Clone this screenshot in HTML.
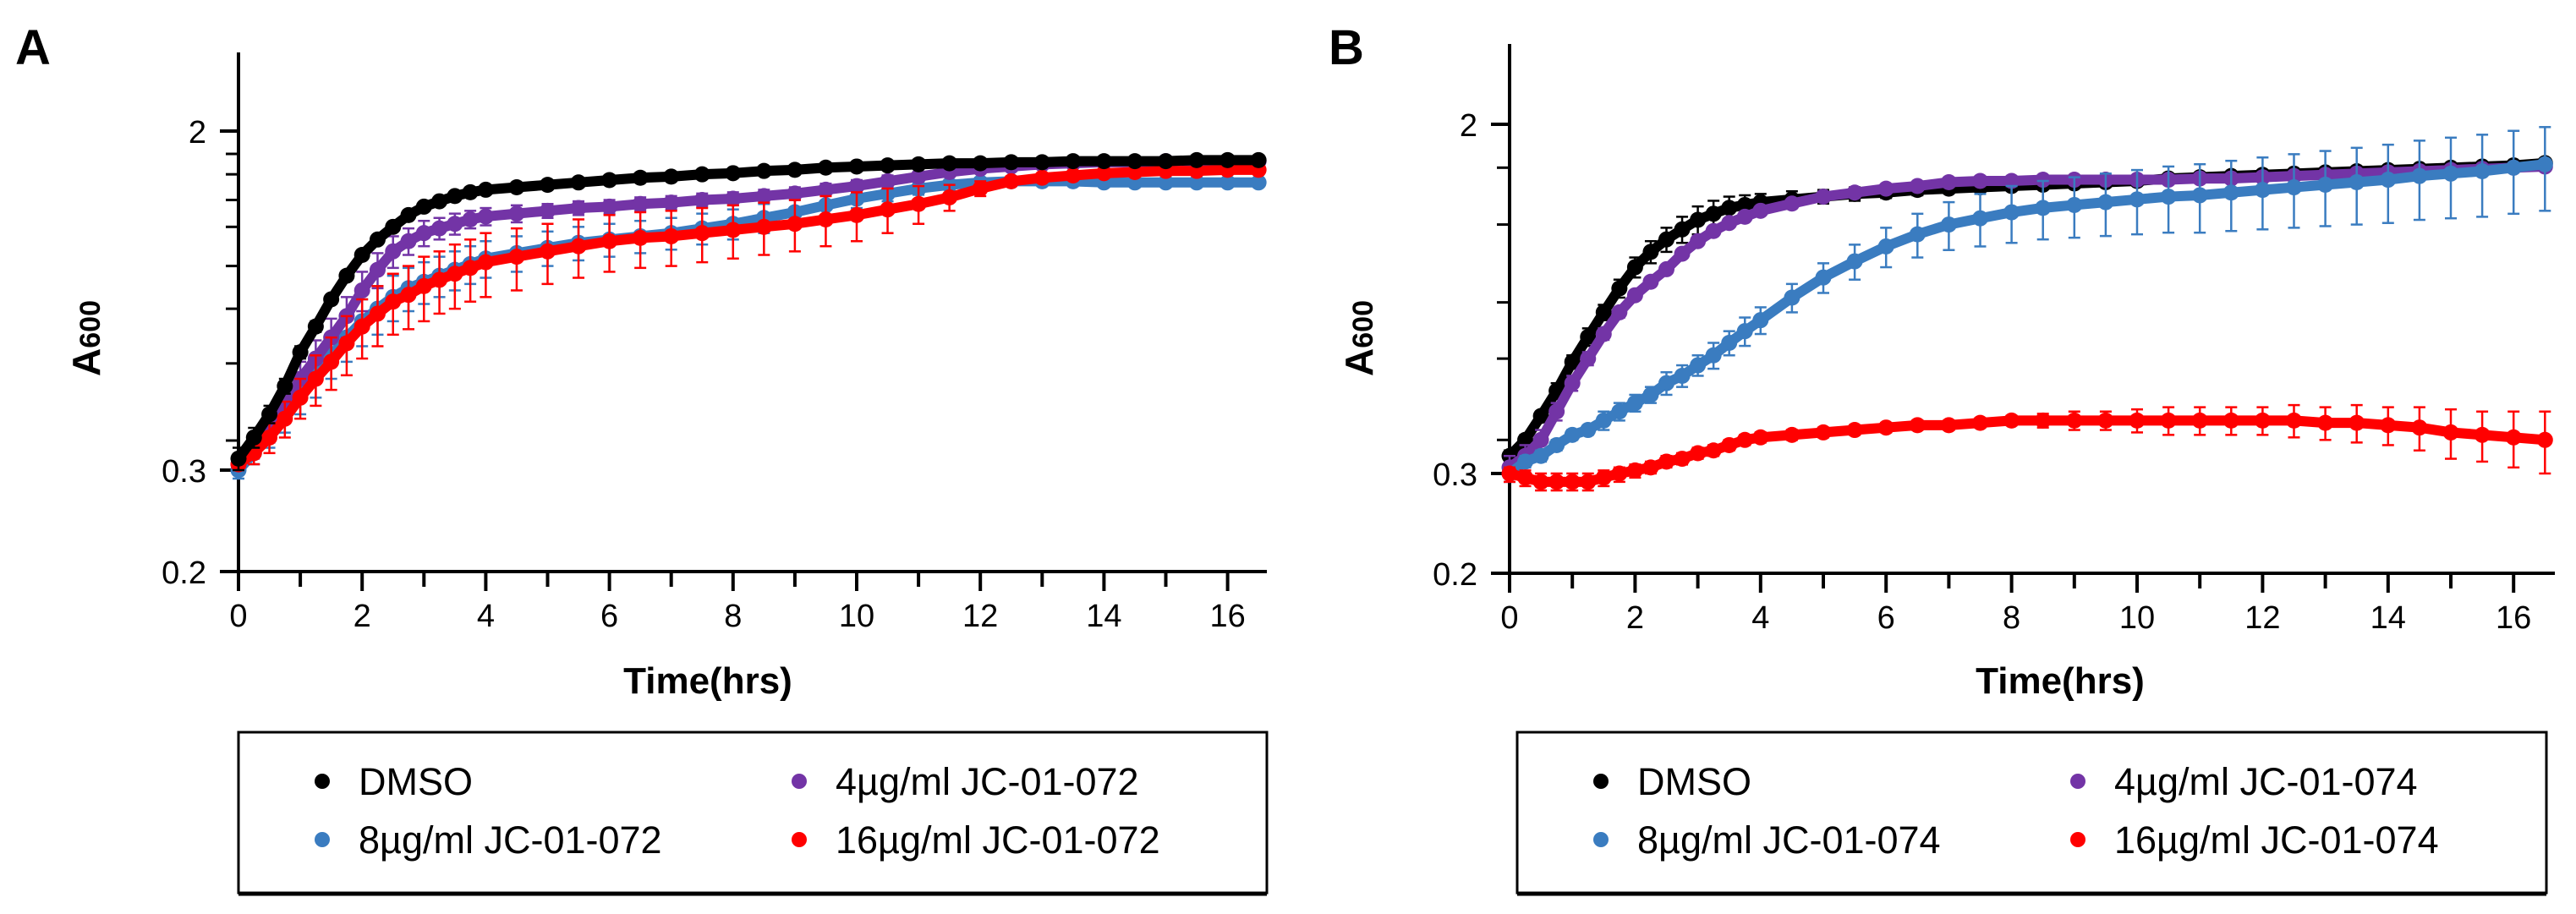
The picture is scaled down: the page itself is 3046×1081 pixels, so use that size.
<!DOCTYPE html>
<html><head><meta charset="utf-8"><style>
html,body{margin:0;padding:0;background:#fff;}
svg{display:block;font-family:"Liberation Sans",Arial,sans-serif;}
</style></head><body>
<svg id="fig" width="3046" height="1081" viewBox="0 0 3046 1081" xmlns="http://www.w3.org/2000/svg"></svg>
<script>
const times = [0,0.25,0.5,0.75,1,1.25,1.5,1.75,2,2.25,2.5,2.75,3,3.25,3.5,3.75,4,4.5,5,5.5,6,6.5,7,7.5,8,8.5,9,9.5,10,10.5,11,11.5,12,12.5,13,13.5,14,14.5,15,15.5,16,16.5];
const xTicks = [0,2,4,6,8,10,12,14,16];
const xMinorTicks = [1,3,5,7,9,11,13,15];
const yTickValues = [2,0.3,0.2];
const yTickLabels = ["2","0.3","0.2"];
const yMinorA = [1.76,1.57,1.36,1.17,0.94,0.74,0.545,0.354];
const yMinorB = [1.58,1.16,0.76,0.56,0.36];

// Panel A values
const aDMSO = [0.32,0.36,0.41,0.48,0.58,0.67,0.78,0.89,1.00,1.09,1.17,1.25,1.31,1.35,1.39,1.42,1.44,1.46,1.48,1.50,1.52,1.54,1.55,1.57,1.58,1.60,1.61,1.63,1.64,1.65,1.66,1.67,1.67,1.68,1.68,1.69,1.69,1.69,1.69,1.70,1.70,1.70];
const aP4 = [0.31,0.34,0.38,0.43,0.50,0.56,0.63,0.71,0.82,0.92,1.02,1.08,1.13,1.16,1.19,1.22,1.24,1.26,1.28,1.30,1.31,1.33,1.34,1.36,1.37,1.39,1.41,1.44,1.47,1.51,1.55,1.59,1.62,1.64,1.66,1.67,1.68,1.68,1.69,1.69,1.69,1.69];
const aB8 = [0.30,0.33,0.37,0.41,0.46,0.51,0.57,0.63,0.69,0.74,0.79,0.83,0.86,0.89,0.92,0.95,0.98,1.01,1.04,1.07,1.09,1.11,1.13,1.16,1.19,1.23,1.27,1.32,1.37,1.41,1.45,1.48,1.50,1.51,1.51,1.51,1.50,1.50,1.50,1.50,1.50,1.50];
const aR16 = [0.31,0.33,0.36,0.40,0.45,0.50,0.55,0.61,0.67,0.72,0.77,0.80,0.84,0.87,0.90,0.93,0.96,0.99,1.02,1.05,1.08,1.10,1.11,1.13,1.15,1.17,1.19,1.22,1.25,1.29,1.33,1.38,1.45,1.51,1.54,1.56,1.58,1.59,1.60,1.60,1.61,1.61];
const aDMSOerr = [0.02,0.02,0.02,0.02,0.02,0.02,0.02,0.02,0.02,0.02,0.02,0.02,0.02,0.02,0.02,0.02,0.02,0.02,0.02,0.02,0.02,0.02,0.02,0.02,0.02,0.02,0.02,0.02,0.02,0.02,0.02,0.02,0.02,0.02,0.02,0.02,0.02,0.02,0.02,0.02,0.02,0.02];
const aP4err = [0.01,0.02,0.03,0.04,0.05,0.06,0.07,0.08,0.09,0.09,0.09,0.08,0.08,0.07,0.07,0.06,0.06,0.06,0.05,0.05,0.05,0.05,0.05,0.05,0.05,0.05,0.05,0.05,0.05,0.05,0.04,0.04,0.03,0.03,0.03,0.02,0.02,0.02,0.02,0.02,0.02,0.02];
const aB8err = [0.01,0.02,0.03,0.04,0.05,0.06,0.07,0.08,0.09,0.10,0.10,0.10,0.10,0.10,0.10,0.10,0.10,0.10,0.10,0.10,0.10,0.10,0.10,0.10,0.10,0.10,0.09,0.08,0.07,0.06,0.05,0.04,0.04,0.03,0.03,0.03,0.03,0.03,0.03,0.03,0.03,0.03];
const aR16err = [0.01,0.02,0.03,0.04,0.05,0.07,0.08,0.10,0.11,0.12,0.13,0.14,0.15,0.15,0.16,0.16,0.17,0.17,0.17,0.17,0.17,0.17,0.17,0.17,0.17,0.17,0.17,0.17,0.17,0.16,0.14,0.10,0.06,0.04,0.03,0.03,0.02,0.02,0.02,0.02,0.02,0.02];

// Panel B values
const bDMSO = [0.33,0.36,0.41,0.47,0.55,0.63,0.72,0.82,0.92,1.00,1.07,1.13,1.19,1.23,1.27,1.29,1.31,1.33,1.35,1.37,1.38,1.40,1.41,1.42,1.43,1.44,1.45,1.46,1.47,1.49,1.50,1.51,1.52,1.53,1.54,1.55,1.56,1.57,1.58,1.59,1.60,1.62];
const bP4 = [0.31,0.33,0.36,0.42,0.49,0.56,0.64,0.72,0.79,0.85,0.91,0.99,1.06,1.12,1.17,1.21,1.25,1.30,1.35,1.38,1.41,1.43,1.46,1.47,1.47,1.48,1.48,1.48,1.48,1.48,1.49,1.49,1.50,1.51,1.52,1.53,1.54,1.55,1.56,1.57,1.58,1.59];
const bB8 = [0.30,0.32,0.33,0.35,0.37,0.38,0.40,0.42,0.44,0.46,0.49,0.51,0.54,0.57,0.61,0.65,0.69,0.78,0.87,0.95,1.03,1.10,1.16,1.20,1.24,1.27,1.29,1.31,1.33,1.35,1.36,1.38,1.40,1.42,1.44,1.46,1.48,1.51,1.53,1.55,1.58,1.61];
const bR16 = [0.30,0.295,0.29,0.29,0.29,0.29,0.295,0.30,0.305,0.31,0.32,0.325,0.335,0.34,0.35,0.36,0.365,0.37,0.375,0.38,0.385,0.39,0.39,0.395,0.40,0.40,0.40,0.40,0.40,0.40,0.40,0.40,0.40,0.40,0.395,0.395,0.39,0.385,0.375,0.37,0.365,0.36];
const bDMSOerr = [0.01,0.01,0.01,0.02,0.02,0.03,0.03,0.04,0.05,0.06,0.07,0.08,0.09,0.09,0.08,0.07,0.06,0.06,0.05,0.05,0.04,0.04,0.03,0.03,0.03,0.03,0.02,0.02,0.02,0.02,0.02,0.02,0.02,0.02,0.02,0.02,0.02,0.02,0.02,0.02,0.02,0.02];
const bP4err = [0.02,0.02,0.02,0.02,0.02,0.02,0.02,0.02,0.02,0.02,0.02,0.02,0.02,0.02,0.02,0.02,0.02,0.02,0.02,0.02,0.02,0.02,0.02,0.02,0.02,0.02,0.02,0.02,0.02,0.02,0.02,0.02,0.02,0.02,0.02,0.02,0.02,0.02,0.02,0.02,0.02,0.02];
const bB8err = [0.01,0.01,0.01,0.01,0.01,0.01,0.02,0.02,0.02,0.02,0.03,0.03,0.03,0.04,0.04,0.05,0.05,0.06,0.07,0.09,0.11,0.13,0.15,0.17,0.19,0.20,0.21,0.22,0.23,0.24,0.25,0.26,0.27,0.28,0.29,0.30,0.31,0.32,0.33,0.34,0.35,0.36];
const bR16err = [0.01,0.01,0.01,0.01,0.01,0.01,0.01,0.01,0.01,0.01,0.01,0.01,0.01,0.01,0.01,0.01,0.01,0.01,0.01,0.01,0.01,0.01,0.01,0.01,0.01,0.015,0.02,0.02,0.025,0.03,0.03,0.03,0.03,0.035,0.035,0.04,0.04,0.045,0.05,0.05,0.055,0.06];

const legendA = ["DMSO","4µg/ml JC-01-072","8µg/ml JC-01-072","16µg/ml JC-01-072"];
const legendB = ["DMSO","4µg/ml JC-01-074","8µg/ml JC-01-074","16µg/ml JC-01-074"];

const NS = "http://www.w3.org/2000/svg";
const svg = document.getElementById('fig');
const C = {black:"#000000", purple:"#7334a6", blue:"#3a7cc0", red:"#ff0000"};

function mk(tag, attrs, parent, text){
  const e = document.createElementNS(NS, tag);
  for (const k in attrs) e.setAttribute(k, attrs[k]);
  if (text !== undefined) e.textContent = text;
  (parent || svg).appendChild(e);
  return e;
}

function panel(cfg){
  const g = mk('g', {});
  
  
  const X = t => cfg.x0 + t * cfg.xs;
  const L = Math.log10;
  const Y = v => v >= 0.3 ? cfg.y03 - L(v/0.3) * (cfg.y03 - cfg.y2) / L(2/0.3)
                          : cfg.y03 + L(0.3/v) * (cfg.y02 - cfg.y03) / L(1.5);
  const pl = mk('text', {x: cfg.letterX, y: 76, 'font-size': 58, 'font-weight': 'bold'}, g, cfg.letter);
  
  
  const ya = mk('line', {x1: cfg.x0, y1: cfg.top, x2: cfg.x0, y2: cfg.y02 + 23, stroke: '#000', 'stroke-width': 4}, g);
  
  
  const xa = mk('line', {x1: cfg.x0 - 22, y1: cfg.y02, x2: cfg.right, y2: cfg.y02, stroke: '#000', 'stroke-width': 4}, g);
  
  
  xTicks.forEach(t => {
    mk('line', {x1: X(t), y1: cfg.y02, x2: X(t), y2: cfg.y02 + 23, stroke: '#000', 'stroke-width': 4}, g);
    const tl = mk('text', {x: X(t), y: cfg.y02 + 65, 'font-size': 38, 'text-anchor': 'middle'}, g, String(t));
    
    
  });
  xMinorTicks.forEach(t => mk('line', {x1: X(t), y1: cfg.y02, x2: X(t), y2: cfg.y02 + 18, stroke: '#000', 'stroke-width': 4}, g));
  yTickValues.forEach((v, i) => {
    mk('line', {x1: cfg.x0 - 22, y1: Y(v), x2: cfg.x0, y2: Y(v), stroke: '#000', 'stroke-width': 4}, g);
    const tl = mk('text', {x: cfg.x0 - 38, y: Y(v) + 14, 'font-size': 38, 'text-anchor': 'end'}, g, yTickLabels[i]);
    
    
  });
  cfg.minor.forEach(v => mk('line', {x1: cfg.x0 - 15, y1: Y(v), x2: cfg.x0, y2: Y(v), stroke: '#000', 'stroke-width': 3}, g));
  const xt = mk('text', {x: cfg.xTitleX, y: 820, 'font-size': 44, 'font-weight': 'bold', 'text-anchor': 'middle'}, g, 'Time(hrs)');
  
  
  const yt = mk('text', {x: 0, y: 0, 'font-size': 46, 'font-weight': 'bold', 'text-anchor': 'middle', transform: `translate(${cfg.yTitleX},400) rotate(-90)`}, g);
  
  
  mk('tspan', {}, yt, 'A');
  mk('tspan', {'font-size': 34}, yt, '600');
  cfg.series.forEach(s => {
    const sg = mk('g', {}, g);
    
    
    times.forEach((t, i) => {
      const x = X(t), hi = Y(s.vals[i] + s.err[i]), lo = Y(Math.max(0.21, s.vals[i] - s.err[i]));
      mk('line', {x1: x, y1: hi, x2: x, y2: lo, stroke: s.color, 'stroke-width': 2.5}, sg);
      mk('line', {x1: x - 7, y1: hi, x2: x + 7, y2: hi, stroke: s.color, 'stroke-width': 2.5}, sg);
      mk('line', {x1: x - 7, y1: lo, x2: x + 7, y2: lo, stroke: s.color, 'stroke-width': 2.5}, sg);
    });
    const pts = times.map((t, i) => X(t) + ',' + Y(s.vals[i])).join(' ');
    mk('polyline', {points: pts, fill: 'none', stroke: s.color, 'stroke-width': 12, 'stroke-linejoin': 'round'}, sg);
    times.forEach((t, i) => {
      const d = mk('circle', {cx: X(t), cy: Y(s.vals[i]), r: 9.5, fill: s.color}, sg);
      
      
    });
  });
  const lg = mk('g', {}, g);
  
  
  mk('rect', {x: cfg.legX, y: 866, width: cfg.legW, height: 190, fill: '#fff', stroke: '#000', 'stroke-width': 3}, lg);
  mk('line', {x1: cfg.legX, y1: 1057, x2: cfg.legX + cfg.legW, y2: 1057, stroke: '#000', 'stroke-width': 5}, lg);
  const colors = [C.black, C.purple, C.blue, C.red];
  const mx = [cfg.legX + 99, cfg.legX + 663, cfg.legX + 99, cfg.legX + 663];
  const my = [924, 924, 993, 993];
  cfg.legend.forEach((lab, i) => {
    const e = mk('g', {}, lg);
    
    
    mk('ellipse', {cx: mx[i], cy: my[i], rx: 9, ry: 9, fill: colors[i]}, e);
    mk('text', {x: mx[i] + 43, y: my[i] + 16, 'font-size': 45}, e, lab);
  });
}

panel({name: 'panel-a', letter: 'A', letterX: 18, x0: 282, xs: 73.1, y2: 155, y03: 556, y02: 676, top: 62, right: 1498,
  minor: yMinorA, xTitleX: 837, yTitleX: 118, legX: 282, legW: 1216, legend: legendA,
  series: [
    {name: 'series-8ug', vals: aB8, err: aB8err, color: C.blue},
    {name: 'series-4ug', vals: aP4, err: aP4err, color: C.purple},
    {name: 'series-16ug', vals: aR16, err: aR16err, color: C.red},
    {name: 'series-dmso', vals: aDMSO, err: aDMSOerr, color: C.black}
  ]});
panel({name: 'panel-b', letter: 'B', letterX: 1571, x0: 1785, xs: 74.2, y2: 147, y03: 560, y02: 678, top: 52, right: 3021,
  minor: yMinorB, xTitleX: 2436, yTitleX: 1623, legX: 1794, legW: 1217, legend: legendB,
  series: [
    {name: 'series-dmso', vals: bDMSO, err: bDMSOerr, color: C.black},
    {name: 'series-4ug', vals: bP4, err: bP4err, color: C.purple},
    {name: 'series-8ug', vals: bB8, err: bB8err, color: C.blue},
    {name: 'series-16ug', vals: bR16, err: bR16err, color: C.red}
  ]});
</script>
</body></html>
